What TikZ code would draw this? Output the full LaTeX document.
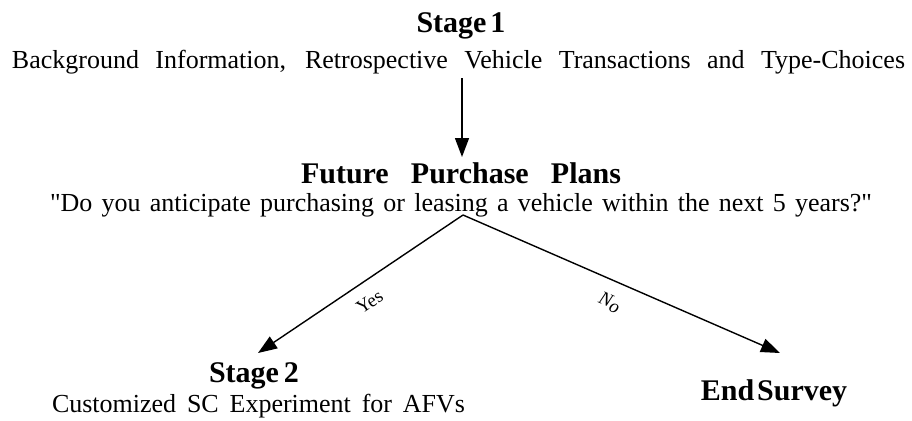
\documentclass[tikz,border=0pt]{standalone}
\usepackage{fontspec}
\setmainfont{Liberation Serif}[Ligatures=TeXOff]
\usetikzlibrary{arrows.meta}
\tikzset{
  txt/.style={inner sep=0pt, anchor=base, font=\fontsize{26}{31}\selectfont},
  ttl/.style={inner sep=0pt, anchor=base, font=\fontsize{30}{36}\selectfont\bfseries},
  conn/.style={line width=1.4pt, -{Triangle[length=19pt,width=14pt]}},
  lbl/.style={font=\fontsize{19}{23}\selectfont, sloped, anchor=north, inner xsep=0pt, inner ysep=13pt}
}
\begin{document}
\begin{tikzpicture}[x=1pt,y=-1pt]
\useasboundingbox (0,0) rectangle (912,420);
\node[ttl] (s1) at (461,33) {Stage\hspace{4pt}1};
\node[txt] (s1d) at (458.5,68) {\makebox[893pt][s]{Background Information, Retrospective Vehicle Transactions and Type-Choices}};
\node[ttl] (fp) at (461,183) {\makebox[320pt][s]{Future Purchase Plans}};
\node[txt] (fpq) at (461,211) {\makebox[822pt][s]{"Do you anticipate purchasing or leasing a vehicle within the next 5 years?"}};
\node[ttl] (s2) at (254,382) {Stage\hspace{5pt}2};
\node[txt] (s2d) at (258.5,412) {\makebox[413pt][s]{Customized SC Experiment for AFVs}};
\node[ttl] (es) at (774,400) {End\hspace{3pt}Survey};
\coordinate (a1) at (462,78);
\coordinate (a2) at (462,157);
\coordinate (apex) at (463,215);
\coordinate (ltip) at (258,353);
\coordinate (rtip) at (780,353);
\draw[conn] (a1) -- (a2);
\draw[conn] (apex) -- node[lbl, pos=0.51] {Yes} (ltip);
\draw[conn] (apex) -- node[lbl, pos=0.49] {\itshape N\raisebox{-4pt}{o}} (rtip);
\end{tikzpicture}
\end{document}
